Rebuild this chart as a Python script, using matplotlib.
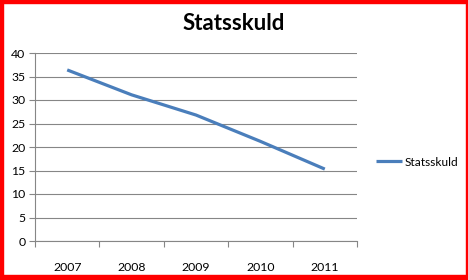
import matplotlib
matplotlib.use('Agg')
import matplotlib.pyplot as plt
from matplotlib.patches import Rectangle

# data
years = ['2007', '2008', '2009', '2010', '2011']
statsskuld = [36.4, 31.1, 26.8, 21.2, 15.3]
y_ticks = [0, 5, 10, 15, 20, 25, 30, 35, 40]

plt.rcParams['font.family'] = ['Lato', 'DejaVu Sans']

W, H = 468, 280
fig = plt.figure(figsize=(W / 100, H / 100), dpi=100)
fig.patch.set_facecolor('white')

ax = fig.add_axes([35 / W, 1 - 241 / H, (357 - 35) / W, (241 - 53) / H])
x = list(range(len(years)))
ax.plot(x, statsskuld, color='#4A7EBB', linewidth=2.3, label='Statsskuld',
        solid_capstyle='butt')

ax.set_xlim(-0.5, len(years) - 0.5)
ax.set_ylim(0, 40)
ax.set_yticks(y_ticks)
ax.set_yticklabels([str(v) for v in y_ticks], fontsize=8.8)

# category boundaries as major ticks, labels on minor ticks
ax.set_xticks([i - 0.5 for i in range(len(years) + 1)])
ax.set_xticklabels([])
ax.set_xticks(x, minor=True)
ax.set_xticklabels(years, minor=True, fontsize=8.8)
ax.tick_params(axis='x', which='major', length=4, color='#868686', direction='out')
ax.tick_params(axis='x', which='minor', length=0, pad=15)
ax.tick_params(axis='y', length=4, color='#868686', pad=3)

ax.grid(axis='y', color='#868686', linewidth=0.8)
ax.set_axisbelow(True)
for s in ['top', 'right']:
    ax.spines[s].set_visible(False)
for s in ['left', 'bottom']:
    ax.spines[s].set_color('#868686')
    ax.spines[s].set_linewidth(0.8)

fig.text(234 / W, 1 - 23 / H, 'Statsskuld', ha='center', va='center',
         fontsize=16, fontweight='bold')

ax.legend(loc='center left', bbox_to_anchor=(376 / W, 1 - 162 / H),
          bbox_transform=fig.transFigure, frameon=False, fontsize=8.6,
          handlelength=2.2, handletextpad=0.2, borderaxespad=0,
          borderpad=0)

# red frame round the picture
red = '#FF0000'
fig.patches.append(Rectangle((0, 0), 2.5 / W, 1, transform=fig.transFigure, color=red))
fig.patches.append(Rectangle((1 - 2.5 / W, 0), 2.5 / W, 1, transform=fig.transFigure, color=red))
fig.patches.append(Rectangle((0, 1 - 2.5 / H), 1, 2.5 / H, transform=fig.transFigure, color=red))
fig.patches.append(Rectangle((0, 0), 1, 5 / H, transform=fig.transFigure, color=red))

fig.savefig('out.png', dpi=100)
